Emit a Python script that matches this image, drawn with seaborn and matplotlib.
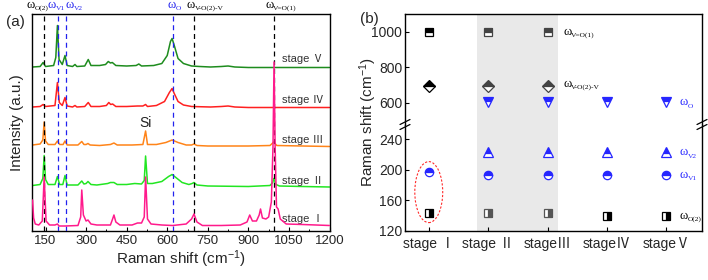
import numpy as np
import pandas as pd
import matplotlib
matplotlib.use("Agg")
import matplotlib.pyplot as plt
import seaborn as sns
from matplotlib.patches import Ellipse
from matplotlib.lines import Line2D

# ---------------- data: panel (a) Raman spectra ----------------
# key points: (Raman shift, intensity above the stage baseline)
shift_s1 = [102, 106, 112, 125, 138, 145, 152, 165, 185, 194, 200, 222, 270, 280, 284, 290, 300, 307, 318,
            340, 390, 398, 403, 410, 425, 470, 490, 505, 515, 520, 527, 540, 580, 620, 670, 690, 699, 710,
            730, 800, 870, 895, 905, 915, 930, 940, 945, 952, 965, 975, 985, 991, 995, 999, 1004, 1010,
            1018, 1040, 1100, 1200]
int_s1 = [27, 9, 3, 2, 6, 50, 6, 2, 2, 3, 1, 1, 1.5, 10, 37, 12, 6, 7, 3,
          2, 2, 8, 12, 5, 2, 2, 4, 4, 10, 50, 8, 3, 2, 1.5, 3, 8, 13, 5,
          1.5, 1.5, 2, 5, 12, 6, 6, 12, 18, 9, 8, 10, 25, 80, 165, 80, 20, 18,
          8, 3, 2.5, 1.5]

shift_s2 = [102, 130, 140, 145, 150, 160, 185, 194, 202, 214, 222, 230, 270, 284, 292, 300, 307, 318, 340,
            380, 390, 403, 415, 450, 480, 505, 515, 520, 527, 545, 580, 605, 618, 632, 655, 680, 692, 699,
            710, 750, 900, 980, 990, 994, 1002, 1015, 1100, 1200]
int_s2 = [1, 2, 8, 31, 7, 2, 2, 10, 2, 2, 11, 1.5, 1.5, 5.5, 2.5, 3, 5, 2, 1.5,
          3, 4, 4, 2, 2, 3, 2.5, 6, 30.5, 3, 3, 5, 10, 12, 9, 4, 2, 3, 4,
          1.5, 0.5, 0, 1, 4, 8, 2, 0.5, 0, -0.5]

shift_s3 = [102, 130, 140, 145, 150, 160, 185, 194, 202, 215, 222, 230, 270, 284, 292, 300, 307, 315, 350,
            390, 403, 415, 470, 510, 520, 527, 560, 595, 618, 640, 670, 690, 699, 710, 750, 900, 980, 994,
            1005, 1100, 1200]
int_s3 = [1, 2, 6, 24, 5, 1.5, 1.5, 5, 1.5, 1.5, 5, 1, 1, 4.5, 1.5, 1.5, 2.5, 1, 0.5,
          1.5, 3, 1, 1, 1.5, 15, 1.5, 1.5, 3.5, 6, 3.5, 1, 1, 2, 0.5, 0, 0, 0.5, 4,
          0.5, 0, -0.5]

shift_s4 = [102, 130, 141, 150, 185, 194, 201, 212, 222, 230, 250, 259, 266, 295, 308, 318, 350, 375, 384,
            391, 398, 410, 450, 490, 510, 520, 527, 560, 590, 608, 618, 626, 640, 660, 690, 760, 800, 825,
            850, 900, 1000, 1100, 1200]
int_s4 = [0.5, 1, 3, 1, 2, 25, 5, 2, 10, 1.5, 0.5, 2, 0.5, 1, 5, 1, 1, 2, 5,
          3, 3.5, 1, 1, 1.5, 1.5, 3, 1, 2, 6, 15, 19, 14, 6, 2.5, 1, 0.5, 1, 1.5,
          0.5, 0, 0, 0, 0]

shift_s5 = [102, 130, 141, 150, 180, 188, 194, 200, 212, 222, 230, 250, 259, 266, 295, 308, 318, 350, 372,
            382, 390, 397, 410, 450, 485, 495, 505, 550, 580, 600, 612, 618, 626, 640, 660, 690, 720, 760,
            800, 825, 850, 900, 1000, 1100, 1200]
int_s5 = [0.5, 1, 5, 1, 2, 10, 42, 8, 3, 12, 2, 1, 3, 1, 1.5, 8, 2, 2, 3,
          6, 4.5, 5, 2, 1.5, 2, 3.5, 1.5, 2, 4, 12, 26, 29, 22, 9, 4, 1.5, 1, 0.5,
          1, 1.5, 0.5, 0, 0, 0, 0]

stage_names = ["stage Ⅰ", "stage Ⅱ", "stage Ⅲ", "stage Ⅳ", "stage Ⅴ"]
stage_offsets = [4, 44.5, 85, 123.5, 163.5]
stage_colors = ["#ff1a8c", "#22e622", "#ff8419", "#ff2020", "#1e8c1e"]

# assigned modes (dashed guides) in panel (a)
mode_pos = [145, 195, 224, 620, 700, 995]
mode_sub = ["O(2)", "V1", "V2", "O", "V-O(2)-V", "V=O(1)"]
mode_lab_x = [81, 159, 225, 601, 671, 962]   # left edge of each label
mode_col = ["black", "#2222ee", "#2222ee", "#2222ee", "black", "black"]

# ---------------- data: panel (b) peak positions vs stage ----------------
stage_x = [1, 2, 3, 4, 5]
stage_ticks = ["stage Ⅰ", "stage Ⅱ", "stageⅢ", "stageⅣ", "stageⅤ"]
w_vo1 = [997, 997, 997, np.nan, np.nan]
w_vov = [697, 697, 697, np.nan, np.nan]
w_o = [np.nan, 605, 605, 605, 605]
w_v2 = [np.nan, 223, 223, 223, 223]
w_v1 = [198, 193, 193, 193, 193]
w_o2 = [144, 144, 144, 140, 140]

# ---------------- style ----------------
sns.set_theme(style="ticks")
plt.rcParams["font.family"] = ["Liberation Sans", "Noto Sans CJK SC"]
plt.rcParams["mathtext.default"] = "regular"
plt.rcParams["xtick.direction"] = "in"
plt.rcParams["ytick.direction"] = "in"
plt.rcParams["axes.edgecolor"] = "black"
plt.rcParams["axes.linewidth"] = 1.0

fig = plt.figure(figsize=(7.08, 2.8), dpi=100)
W, H = 708, 280

def px_axes(x0, y0, x1, y1):
    return fig.add_axes([x0 / W, 1 - y1 / H, (x1 - x0) / W, (y1 - y0) / H])

def omega(a, x, y, sub, color="black", transform=None, size=9):
    """omega with a small serif subscript"""
    tr = transform if transform is not None else a.transData
    a.text(x, y, "ω", transform=tr, fontsize=size, color=color, ha="left", va="center",
           family="Liberation Serif")
    a.annotate(sub, xy=(x, y), xycoords=tr, xytext=(size * 0.66, -2.6), textcoords="offset points",
               fontsize=size * 0.6, color=color, ha="left", va="center", family="Liberation Serif")

# ---------------- panel (a) ----------------
ax = px_axes(32, 14, 329.5, 231)
spectra = [(shift_s1, int_s1), (shift_s2, int_s2), (shift_s3, int_s3), (shift_s4, int_s4), (shift_s5, int_s5)]
for i in [4, 3, 2, 1, 0]:
    sx, sy = spectra[i]
    df = pd.DataFrame({"shift": sx, "I": np.array(sy) + stage_offsets[i]})
    sns.lineplot(data=df, x="shift", y="I", ax=ax, color=stage_colors[i], lw=1.1,
                 estimator=None, sort=False, zorder=4 if i == 0 else 2)

for p, c in zip(mode_pos, mode_col):
    ax.axvline(p, color=c, ls=(0, (4, 3)), lw=0.9, zorder=3)

trans = matplotlib.transforms.blended_transform_factory(ax.transData, ax.transAxes)
for sub, xl, c in zip(mode_sub, mode_lab_x, mode_col):
    omega(ax, xl, 1.042, sub, color=c, transform=trans, size=9)

label_y = [12, 50, 91, 131, 172]
for name, yy in zip(stage_names, label_y):
    ax.text(1178, yy, name, ha="right", va="center", fontsize=8, color="#333333")
ax.text(520, 108, "Si", ha="center", va="center", fontsize=10, color="#222222")

ax.set_xlim(100, 1200)
ax.set_ylim(0, 217)
ax.set_xticks(np.arange(150, 1201, 150))
ax.set_xticks(np.arange(225, 1200, 150), minor=True)
ax.set_yticks([])
ax.tick_params(axis="x", which="major", length=3, width=0.8, labelsize=9.5, pad=3, color="black")
ax.tick_params(axis="x", which="minor", length=1.8, width=0.7, color="black")
ax.set_xlabel("Raman shift (cm$^{-1}$)", fontsize=11, labelpad=1)
ax.set_ylabel("Intensity (a.u.)", fontsize=11, labelpad=6)
fig.text(15 / W, 1 - 22 / H, "(a)", fontsize=11, ha="center", va="center")

# ---------------- panel (b) ----------------
ax_hi = px_axes(405, 14, 702, 125)
ax_lo = px_axes(405, 125, 702, 231)

for a in (ax_hi, ax_lo):
    a.axvspan(1.82, 3.18, color="#e9e9e9", lw=0, zorder=0)
    a.set_xlim(0.6, 5.6)
    a.set_xticks(stage_x)

blue = "#2626ff"
dark = ["black", "#444444", "#444444", "#444444", "#444444"]

def half_marker(a, xs, ys, marker, color, ms, fill, mew=0.9):
    for x, y, c in zip(xs, ys, color):
        if np.isnan(y):
            continue
        a.plot([x], [y], marker=marker, ms=ms, fillstyle=fill, color=c, markerfacecoloralt="white",
               mec=c, mew=mew, ls="none", zorder=5)

half_marker(ax_hi, stage_x, w_vo1, "s", dark, 5.2, "top")
half_marker(ax_hi, stage_x, w_vov, "D", dark, 6.2, "top")
half_marker(ax_hi, stage_x, w_o, "v", [blue] * 5, 7.5, "top")
half_marker(ax_lo, stage_x, w_v2, "^", [blue] * 5, 7.0, "top")
half_marker(ax_lo, stage_x, w_v1, "o", [blue] * 5, 6.0, "top")
half_marker(ax_lo, stage_x, w_o2, "s", ["black", "#555555", "#555555", "black", "black"], 5.2, "right")

omega(ax_hi, 3.26, 1000, "V=O(1)")
omega(ax_hi, 3.26, 708, "V-O(2)-V")
omega(ax_hi, 5.22, 602, "O", color=blue)
omega(ax_lo, 5.22, 223, "V2", color=blue)
omega(ax_lo, 5.22, 193, "V1", color=blue)
omega(ax_lo, 5.22, 140, "O(2)")

ax_lo.add_patch(Ellipse((1, 171), 0.47, 80, fill=False, ec="#ff2a2a", lw=0.8, ls=(0, (2, 1.5)), zorder=6))

ax_hi.set_ylim(475, 1100)
ax_hi.set_yticks([600, 800, 1000])
ax_hi.tick_params(axis="x", bottom=False, labelbottom=False)
ax_hi.spines["bottom"].set_visible(False)
ax_lo.set_ylim(120, 259)
ax_lo.set_yticks([120, 160, 200, 240])
ax_lo.spines["top"].set_visible(False)
ax_lo.set_xticklabels(stage_ticks)
for a in (ax_hi, ax_lo):
    a.tick_params(axis="y", length=3, width=0.8, labelsize=10, pad=2, color="black")
ax_lo.tick_params(axis="x", length=3, width=0.8, labelsize=10, pad=4, color="black")

fig.text(368 / W, 1 - 122 / H, "Raman shift (cm$^{-1}$)", rotation=90, fontsize=11, ha="center", va="center")
fig.text(369 / W, 1 - 19 / H, "(b)", fontsize=11, ha="center", va="center")

# axis break marks
for xb in (405, 702):
    for dy in (-3, 2):
        fig.add_artist(Line2D([(xb - 5) / W, (xb + 5) / W],
                              [1 - (125 + dy + 2.5) / H, 1 - (125 + dy - 2.5) / H],
                              color="black", lw=0.9))

fig.savefig("out.png", dpi=100)
